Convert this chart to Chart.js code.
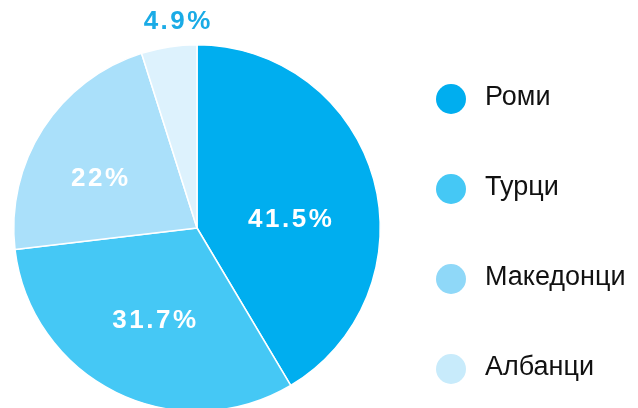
<!DOCTYPE html>
<html>
<head>
<meta charset="utf-8">
<script src="https://cdn.jsdelivr.net/npm/chart.js@4"></script>
<style>
  html, body { margin: 0; padding: 0; background: #fff; }
  #outer { width: 638px; height: 408px; overflow: hidden; }
  #wrap { width: 638px; height: 412px; position: relative; }
</style>
</head>
<body>
<div id="outer"><div id="wrap"><canvas id="pieChart"></canvas></div></div>
<script>
const labels = ['Роми', 'Турци', 'Македонци', 'Албанци'];
const values = [41.5, 31.7, 22, 4.9];
const valueLabels = ['41.5%', '31.7%', '22%', '4.9%'];
const sliceColors = ['#00AEEF', '#45C8F5', '#AAE0FA', '#DDF2FD'];
const legendColors = ['#00AEEF', '#45C8F5', '#8FD8F8', '#C8EBFB'];

// where each value label sits: fraction of radius, angle nudge (rad), inside or not
const labelPlace = [
  { r: 0.51, da: 0.16, inside: true },
  { r: 0.55, da: -0.02, inside: true },
  { r: 0.60, da: -0.09, inside: true },
  { r: 1.14, da: 0.058, inside: false }
];

const labelPlugin = {
  id: 'sliceLabels',
  afterDatasetsDraw(chart) {
    const ctx = chart.ctx;
    const meta = chart.getDatasetMeta(0);
    ctx.save();
    ctx.font = 'bold 26px "Liberation Sans", Arial, sans-serif';
    ctx.letterSpacing = '2.5px';
    ctx.textAlign = 'center';
    ctx.textBaseline = 'middle';
    meta.data.forEach((arc, i) => {
      const p = labelPlace[i];
      const mid = (arc.startAngle + arc.endAngle) / 2 + p.da;
      const rr = arc.outerRadius * p.r;
      const x = arc.x + Math.cos(mid) * rr + 1.25;
      const y = arc.y + Math.sin(mid) * rr + 2;
      ctx.fillStyle = p.inside ? '#ffffff' : '#1AABE6';
      ctx.fillText(valueLabels[i], x, y);
    });
    ctx.restore();

    // legend on the right
    ctx.save();
    ctx.font = '27px "Liberation Sans", Arial, sans-serif';
    ctx.textBaseline = 'alphabetic';
    ctx.textAlign = 'left';
    labels.forEach((lab, i) => {
      const cy = 99 + i * 90;
      ctx.beginPath();
      ctx.arc(451, cy, 15, 0, Math.PI * 2);
      ctx.fillStyle = legendColors[i];
      ctx.fill();
      ctx.fillStyle = '#111111';
      ctx.fillText(lab, 485, cy + 6);
    });
    ctx.restore();
  }
};

new Chart(document.getElementById('pieChart').getContext('2d'), {
  type: 'pie',
  data: {
    labels: labels,
    datasets: [{
      data: values,
      backgroundColor: sliceColors,
      borderColor: '#ffffff',
      borderWidth: 1.5
    }]
  },
  options: {
    responsive: true,
    maintainAspectRatio: false,
    animation: false,
    layout: { padding: { top: 44, bottom: 0, left: 13, right: 257 } },
    plugins: {
      legend: { display: false },
      tooltip: { enabled: false }
    }
  },
  plugins: [labelPlugin]
});
</script>
</body>
</html>
